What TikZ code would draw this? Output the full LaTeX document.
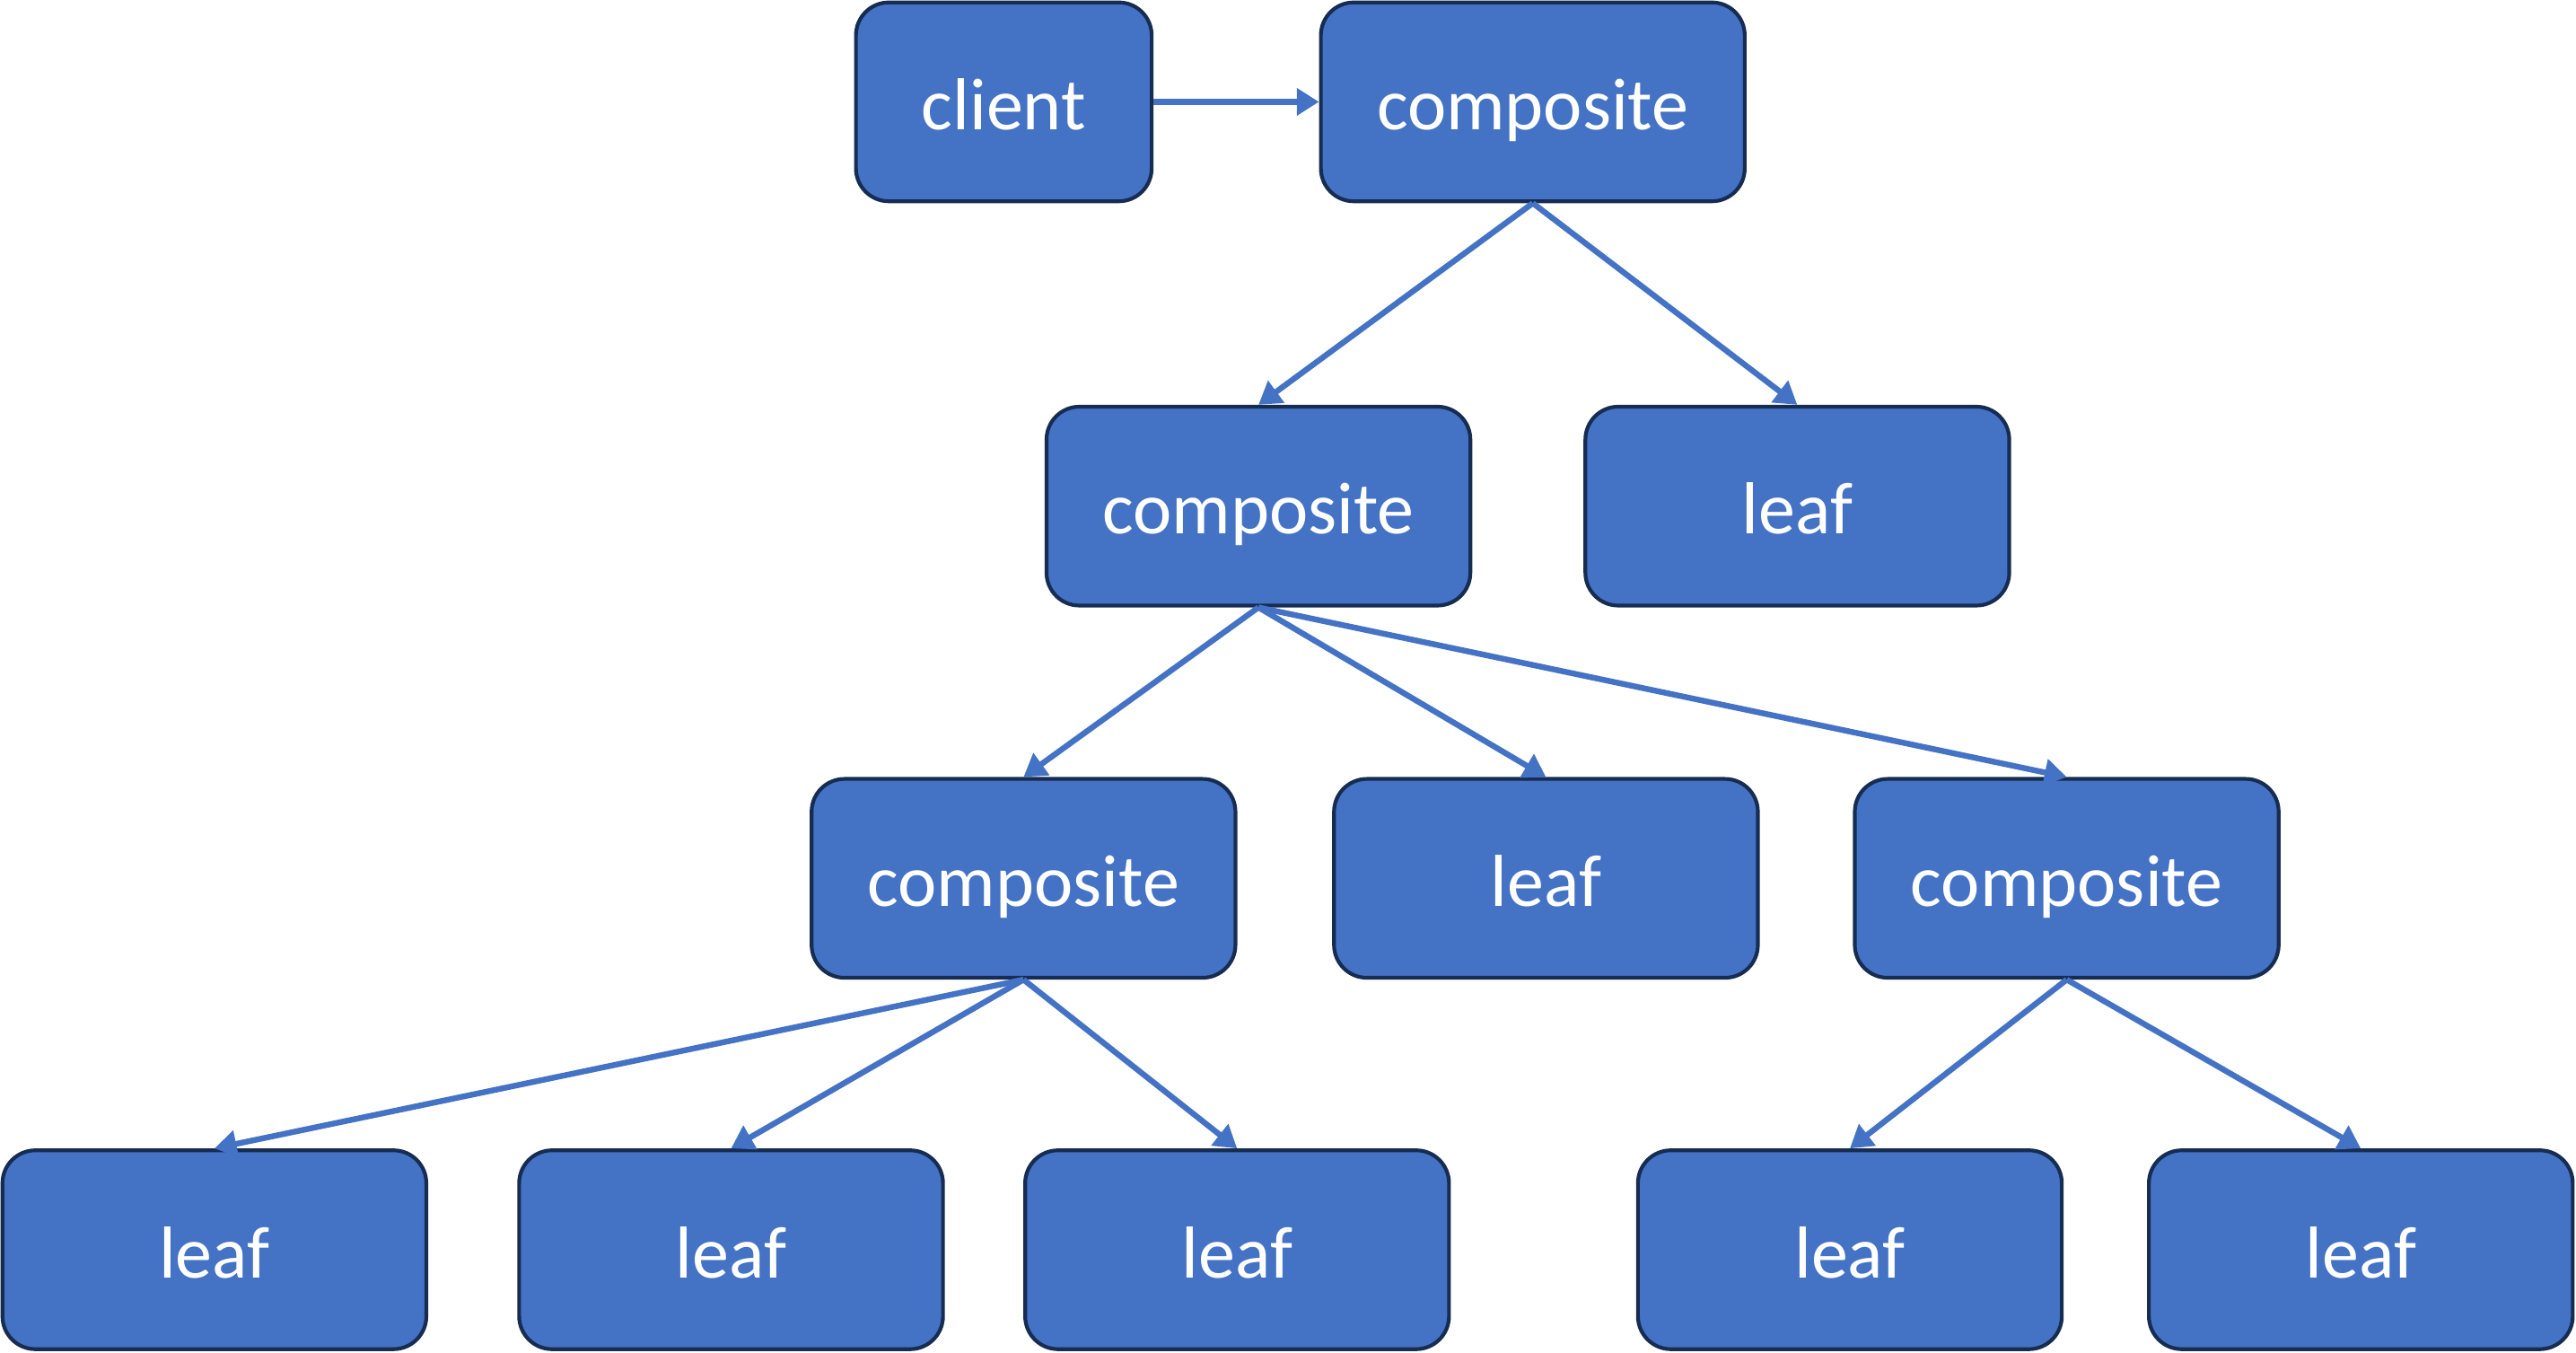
\documentclass[tikz,border=0pt]{standalone}
\usepackage{fontspec}
\setmainfont{Carlito}
\usepackage{xcolor}
\usepackage{tikz}
\usetikzlibrary{arrows.meta,positioning,calc}
\definecolor{boxblue}{HTML}{4472C4}
\definecolor{boxedge}{HTML}{172C51}

\begin{document}
\begin{tikzpicture}[
    >=Latex,
    block/.style={
        draw=boxedge,
        fill=boxblue,
        rounded corners=4mm,
        line width=1.3pt,
        minimum width=5.16cm,
        minimum height=2.42cm,
        text height=22pt,
        text depth=2.6pt,
        align=center,
        text=white,
        font=\fontsize{25.5}{30}\selectfont
    },
    smallblock/.style={
        block,
        minimum width=3.6cm
    },
    link/.style={
        boxblue,
        line width=2pt,
        -{Triangle[length=2.7mm,width=3.2mm]}
    }
]
\useasboundingbox (0,0) rectangle (31.36,16.46);

% top row
\node[smallblock] (client) at (12.22,15.22) {client};
\node[block] (comp1) at (18.66,15.22) {composite};

\draw[link] (client.east) -- (comp1.west);

% second row
\node[block] (comp2) at (15.32,10.30) {composite};
\node[block] (leaf1) at (21.88,10.30) {leaf};

\draw[link] (comp1.south) -- (comp2.north);
\draw[link] (comp1.south) -- (leaf1.north);

% third row
\node[block] (comp3) at (12.46,5.77) {composite};
\node[block] (leaf2) at (18.82,5.77) {leaf};
\node[block] (comp4) at (25.16,5.77) {composite};

\draw[link] (comp2.south) -- (comp3.north);
\draw[link] (comp2.south) -- (leaf2.north);
\draw[link] (comp2.south) -- (comp4.north);

% bottom row
\node[block] (leaf3) at (2.61,1.25) {leaf};
\node[block] (leaf4) at (8.90,1.25) {leaf};
\node[block] (leaf5) at (15.06,1.25) {leaf};
\node[block] (leaf6) at (22.52,1.25) {leaf};
\node[block] (leaf7) at (28.74,1.25) {leaf};

\draw[link] (comp3.south) -- (leaf3.north);
\draw[link] (comp3.south) -- (leaf4.north);
\draw[link] (comp3.south) -- (leaf5.north);
\draw[link] (comp4.south) -- (leaf6.north);
\draw[link] (comp4.south) -- (leaf7.north);

\end{tikzpicture}
\end{document}
